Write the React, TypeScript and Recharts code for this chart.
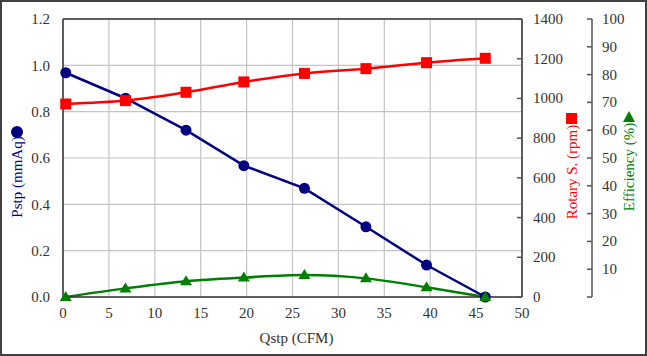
import React from 'react';
import {
  CartesianGrid,
  ComposedChart,
  Line,
  ReferenceLine,
  XAxis,
  YAxis,
} from 'recharts';

const qstp = [0.3, 6.8, 13.4, 19.7, 26.3, 33.0, 39.6, 46.0];
const pstp = [0.968, 0.858, 0.72, 0.567, 0.469, 0.303, 0.138, 0];
const rpm = [972, 989, 1031, 1083, 1126, 1150, 1180, 1202];
const eff = [0, 3.1, 5.7, 7.0, 7.9, 6.7, 3.5, 0];

const xTicks = [0, 5, 10, 15, 20, 25, 30, 35, 40, 45, 50];
const pTicks = [0, 0.2, 0.4, 0.6, 0.8, 1.0, 1.2];
const rpmTicks = [0, 200, 400, 600, 800, 1000, 1200, 1400];
const effTicks = [0, 10, 20, 30, 40, 50, 60, 70, 80, 90, 100];

const data = qstp.map((q, i) => ({ q, p: pstp[i], rpm: rpm[i], eff: eff[i] }));

const FONT = '"Liberation Serif", "Times New Roman", serif';
const TXT = '#333';
const NAVY = '#000080';
const RED = '#ff0000';
const GREEN = '#008000';

const Circle = (props: any) => {
  const { cx, cy } = props;
  if (cx == null || cy == null) return null;
  return <circle cx={cx} cy={cy} r={5.5} fill={NAVY} />;
};

const Square = (props: any) => {
  const { cx, cy } = props;
  if (cx == null || cy == null) return null;
  return <rect x={cx - 5.5} y={cy - 5.5} width={11} height={11} fill={RED} />;
};

const Triangle = (props: any) => {
  const { cx, cy } = props;
  if (cx == null || cy == null) return null;
  return <polygon points={`${cx},${cy - 6} ${cx + 6},${cy + 4} ${cx - 6},${cy + 4}`} fill={GREEN} />;
};

// right-hand axes draw their tick marks pointing into the chart
const InwardTick = (margin: number, hideZero: boolean) =>
  (props: any) => {
    const { x, y, payload } = props;
    const ax = x - margin;
    return (
      <g>
        <line x1={ax - 5} y1={y} x2={ax} y2={y} stroke="#555" strokeWidth={1.5} />
        {hideZero && payload.value === 0 ? null : (
          <text x={x} y={y} textAnchor="start" dominantBaseline="central"
            fill={TXT} fontSize={15} fontFamily={FONT}>
            {payload.value}
          </text>
        )}
      </g>
    );
  };

const rotText = (x: number, y: number, s: string, color: string) => (
  <text x={x} y={y} transform={`rotate(-90, ${x}, ${y})`} textAnchor="middle"
    dominantBaseline="central" fill={color} fontSize={15} fontFamily={FONT}>
    {s}
  </text>
);

const tickStyle = { fill: TXT, fontSize: 15, fontFamily: FONT };

export default function App() {
  return (
    <div style={{ position: 'relative', width: 647, height: 356, background: '#fff', fontFamily: FONT }}>
      <style>{'body{margin:0}'}</style>
      <ComposedChart width={647} height={356} data={data} style={{ fontFamily: FONT }}
        margin={{ top: 19, right: 15, left: 0, bottom: 14 }}>
        <CartesianGrid xAxisId="x" yAxisId="p" stroke="#c4c4c4" strokeWidth={1.2} />
        <XAxis xAxisId="x" dataKey="q" type="number" domain={[0, 50]} ticks={xTicks}
          height={45} tickSize={0} tickMargin={10} axisLine={{ stroke: '#333', strokeWidth: 1.5 }}
          tick={tickStyle}
          label={{
            content: (p: any) => (
              <text x={p.viewBox.x + p.viewBox.width / 2 + 4} y={338} textAnchor="middle"
                dominantBaseline="central" fill={TXT} fontSize={15} fontFamily={FONT}>
                Qstp (CFM)
              </text>
            ),
          }} />
        <YAxis yAxisId="p" orientation="left" width={63} domain={[0, 1.2]} ticks={pTicks}
          tickSize={0} tickMargin={13} axisLine={{ stroke: '#333', strokeWidth: 1.5 }}
          tickFormatter={(v: number) => v.toFixed(1)}
          tick={tickStyle}
          label={{
            content: () => (
              <g>
                <circle cx={17} cy={132} r={6} fill={NAVY} />
                {rotText(17, 177, 'Pstp (mmAq)', NAVY)}
              </g>
            ),
          }} />
        <YAxis yAxisId="r1" orientation="right" width={70} domain={[0, 1400]} ticks={rpmTicks}
          tickSize={0} tickMargin={11} axisLine={{ stroke: '#333', strokeWidth: 1.5 }}
          tick={InwardTick(11, false)}
          label={{
            content: () => (
              <g>
                <rect x={566} y={113} width={11} height={11} fill={RED} />
                {rotText(572, 172, 'Rotary S. (rpm)', RED)}
              </g>
            ),
          }} />
        <YAxis yAxisId="r2" orientation="right" width={40} domain={[0, 100]} ticks={effTicks}
          tickSize={0} tickMargin={10} axisLine={{ stroke: '#555', strokeWidth: 1.5 }}
          tick={InwardTick(10, true)}
          label={{
            content: () => (
              <g>
                <polygon points="629,111 635,122 623,122" fill={GREEN} />
                {rotText(629, 167, 'Efficiency (%)', GREEN)}
              </g>
            ),
          }} />
        <ReferenceLine xAxisId="x" yAxisId="p" y={1.2} stroke="#333" strokeWidth={1.5} />
        <Line xAxisId="x" yAxisId="p" dataKey="p" type="linear" stroke={NAVY} strokeWidth={2.5}
          dot={<Circle />} activeDot={false} isAnimationActive={false} />
        <Line xAxisId="x" yAxisId="r2" dataKey="eff" type="monotone" stroke={GREEN} strokeWidth={2.5}
          dot={<Triangle />} activeDot={false} isAnimationActive={false} />
        <Line xAxisId="x" yAxisId="r1" dataKey="rpm" type="monotone" stroke={RED} strokeWidth={2.5}
          dot={<Square />} activeDot={false} isAnimationActive={false} />
      </ComposedChart>
      <div style={{
        position: 'absolute', inset: 0, border: '2px solid #404040',
        pointerEvents: 'none', boxSizing: 'border-box',
      }} />
    </div>
  );
}
